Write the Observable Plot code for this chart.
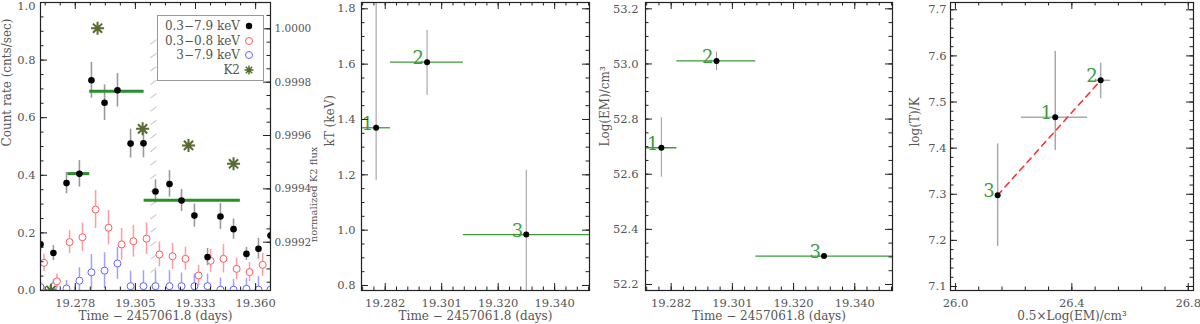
<!DOCTYPE html>
<html><head><meta charset="utf-8">
<script src="https://cdn.jsdelivr.net/npm/d3@7"></script>
<script src="https://cdn.jsdelivr.net/npm/@observablehq/plot@0.6"></script>
<style>
body{margin:0;background:#fff;}
#wrap{position:relative;width:1200px;height:324px;background:#fff;overflow:hidden;font-family:"DejaVu Serif";}
#wrap svg{position:absolute;top:0;}
#legend{position:absolute;left:157px;top:15px;width:105px;height:64px;border:1px solid #999;background:#fff;color:#555;font-size:12px;}
#legend .row{position:absolute;left:0;width:105px;height:14px;}
#legend .lab{position:absolute;right:23px;top:0;line-height:14px;white-space:nowrap;}
#legend svg{position:absolute;left:85px;top:1px;}
</style></head><body><div id="wrap"></div>
<script>
// ---------------- Panel 1: light curves ----------------
const binTime = [19.2616, 19.2675, 19.2735, 19.2794, 19.2849, 19.2909, 19.2968, 19.3028, 19.3087, 19.3142, 19.3206, 19.3261, 19.3320, 19.3380, 19.3439, 19.3499, 19.3558, 19.3613, 19.3668];
const rateBroad = [0.160, 0.130, 0.373, 0.405, 0.730, 0.652, 0.695, 0.510, 0.511, 0.344, 0.370, 0.3125, 0.260, 0.116, 0.257, 0.213, 0.127, 0.145, 0.191];
const errBroad  = [0.025, 0.026, 0.037, 0.046, 0.062, 0.062, 0.058, 0.050, 0.050, 0.040, 0.046, 0.038, 0.040, 0.030, 0.045, 0.035, 0.023, 0.036, 0.035];
const softTime = [19.2632, 19.2691, 19.2749, 19.2808, 19.2868, 19.2927, 19.2987, 19.3041, 19.3101, 19.3160, 19.3220, 19.3279, 19.3339, 19.3394, 19.3453, 19.3513, 19.3572, 19.3632];
const rateSoft = [0.096, 0.032, 0.168, 0.185, 0.281, 0.218, 0.160, 0.171, 0.180, 0.125, 0.119, 0.110, 0.052, 0.103, 0.110, 0.075, 0.064, 0.089];
const errSoft  = [0.030, 0.025, 0.040, 0.049, 0.066, 0.060, 0.055, 0.055, 0.055, 0.043, 0.045, 0.040, 0.035, 0.040, 0.049, 0.038, 0.033, 0.040];
const rateHard = [0.012, 0.015, 0.007, 0.034, 0.063, 0.069, 0.094, 0.015, 0.015, 0.015, 0.015, 0.015, 0.015, 0.015, 0.003, 0.003, 0.006, 0.003, 0.003];
const errHard  = [0.020, 0.022, 0.028, 0.045, 0.062, 0.062, 0.055, 0.052, 0.054, 0.054, 0.054, 0.046, 0.042, 0.042, 0.040, 0.035, 0.035, 0.045, 0.035];
const k2Time = [19.2664, 19.2877, 19.3083, 19.3293, 19.3499];
const k2Flux = [0.999019, 1.0000023, 0.999625, 0.999563, 0.999494];
const segEdges = [19.2741, 19.2841, 19.3090, 19.3530];
const segRate = [0.406, 0.692, 0.313];
const gapTime = 19.3119;
const hatchLevels = [0.015, 0.062, 0.108, 0.155, 0.202, 0.248, 0.295, 0.342, 0.388, 0.435, 0.482, 0.528, 0.575, 0.622, 0.668, 0.715, 0.762, 0.808, 0.855];
const p1XDomain = [19.2616, 19.3668];
const p1XTicks = [19.2775, 19.305, 19.3325, 19.36];
const p1XLabels = ["19.278", "19.305", "19.333", "19.360"];
const p1YTicks = [0, 0.2, 0.4, 0.6, 0.8, 1.0];
const p1YLabels = ["0.0", "0.2", "0.4", "0.6", "0.8", "1.0"];
const k2Domain = [0.999019, 1.0000986]; // right axis range matching the left [0,1]
const k2Ticks = [0.9992, 0.9994, 0.9996, 0.9998, 1.0000];
const k2Labels = ["0.9992", "0.9994", "0.9996", "0.9998", "1.0000"];
const legendLabels = ["0.3\u22127.9 keV", "0.3\u22120.8 keV", "3\u22127.9 keV", "K2"];

// ---------------- Panels 2-4: spectral fits ----------------
const segLabels = ["1", "2", "3"];
const specTime = [19.2792, 19.2966, 19.3305];
const kT = [1.370, 1.607, 0.984];
const kTLo = [1.179, 1.487, 0.75];
const kTHi = [1.85, 1.722, 1.216];
const logEM = [52.696, 53.011, 52.303];
const logEMLo = [52.589, 52.976, 52.297];
const logEMHi = [52.805, 53.043, 52.309];
const halfLogEM = [26.343, 26.499, 26.145];
const halfLogEMLo = [26.227, 26.484, 26.145];
const halfLogEMHi = [26.454, 26.533, 26.145];
const logT = [7.467, 7.547, 7.298];
const logTLo = [7.395, 7.507, 7.187];
const logTHi = [7.610, 7.584, 7.409];
const fitOrder = [2, 1];

const tDomain = [19.2742, 19.3521];
const tTicks = [19.2823, 19.3016, 19.3209, 19.3402];
const tLabels = ["19.282", "19.301", "19.320", "19.340"];
const kTDomain = [0.7819, 1.8228];
const kTTicks = [0.8, 1.0, 1.2, 1.4, 1.6, 1.8];
const kTLabels = ["0.8", "1.0", "1.2", "1.4", "1.6", "1.8"];
const emDomain = [52.1782, 53.2229];
const emTicks = [52.2, 52.4, 52.6, 52.8, 53.0, 53.2];
const emLabels = ["52.2", "52.4", "52.6", "52.8", "53.0", "53.2"];
const p4XDomain = [25.983, 26.818];
const p4XTicks = [26.0, 26.4, 26.8];
const p4XLabels = ["26.0", "26.4", "26.8"];
const p4YDomain = [7.0913, 7.7158];
const p4YTicks = [7.1, 7.2, 7.3, 7.4, 7.5, 7.6, 7.7];
const p4YLabels = ["7.1", "7.2", "7.3", "7.4", "7.5", "7.6", "7.7"];

// ---------------- colours ----------------
const GREEN = "#2a8f2a", GREEN_L = "#3a9d3a", K2C = "#556b2f";
const RED = "#ff5a5a", RED_BAR = "#ff9c9c", BLUE = "#6464ff", BLUE_BAR = "#a0a0ff";

function minors(domain, anchor, step) {
  const out = [];
  const n0 = Math.ceil((domain[0] - anchor) / step - 1e-9), n1 = Math.floor((domain[1] - anchor) / step + 1e-9);
  for (let i = n0; i <= n1; i++) out.push(anchor + i * step);
  return out;
}

const asterisk8 = {
  draw(ctx, size) {
    const r = Math.sqrt(size / Math.PI);
    for (let k = 0; k < 4; k++) {
      const a = k * Math.PI / 4, c = Math.cos(a) * r, s = Math.sin(a) * r;
      ctx.moveTo(c, s); ctx.lineTo(-c, -s);
    }
  }
};

function frameMarks(p) {
  const pw = p.w - p.ml - p.mr, ph = p.h - p.mt - p.mb;
  const s = {stroke: "#222", strokeWidth: 1};
  const M = 7, m = 3.5;
  const xt = (vals, len) => [
    Plot.ruleX(vals, {x: d => d, insetTop: ph - len, ...s}),
    Plot.ruleX(vals, {x: d => d, insetBottom: ph - len, ...s})
  ];
  const yl = (vals, len) => Plot.ruleY(vals, {y: d => d, insetRight: pw - len, ...s});
  const yr = (vals, len) => Plot.ruleY(vals, {y: d => d, insetLeft: pw - len, ...s});
  const marks = [...xt(p.xMaj, M), ...xt(p.xMin, m), yl(p.yMaj, M), yl(p.yMin, m)];
  if (p.mirrorY) marks.push(yr(p.yMaj, M), yr(p.yMin, m));
  const yClamp = p.yLabMax ?? Infinity;
  marks.push(
    Plot.text(p.xMaj, {x: d => d, text: (d, i) => p.xLab[i], frameAnchor: "bottom", dy: 13, lineAnchor: "middle"}),
    Plot.text(p.yMaj, {y: d => Math.min(d, yClamp), text: (d, i) => p.yLab[i], frameAnchor: "left", dx: p.yLabDx, textAnchor: "end"}),
    Plot.text([p.xTitle], {text: d => d, frameAnchor: "bottom", dy: 26, lineAnchor: "middle", fontSize: 12}),
    Plot.text([p.yTitle], {text: d => d, frameAnchor: "left", dx: p.yTitleDx, rotate: -90, fontSize: 12}),
    Plot.frame({stroke: "#222", strokeWidth: 1.2})
  );
  return marks;
}

function make(p, dataMarks) {
  const svg = Plot.plot({
    width: p.w, height: p.h,
    marginLeft: p.ml, marginRight: p.mr, marginTop: p.mt, marginBottom: p.mb,
    x: {domain: p.xDomain, axis: null},
    y: {domain: p.yDomain, axis: null},
    style: {background: "transparent", overflow: "visible", fontFamily: "DejaVu Serif", fontSize: "11.5px", color: "#555"},
    marks: [...dataMarks, ...frameMarks(p)]
  });
  svg.style.left = p.left + "px";
  document.getElementById("wrap").appendChild(svg);
}

const TIME_TITLE = "Time \u2212 2457061.8 (days)";

// ---------- Panel 1 ----------
{
  const toC = f => (f - k2Domain[0]) / (k2Domain[1] - k2Domain[0]);
  const broad = binTime.map((t, i) => ({t, v: rateBroad[i], e: errBroad[i]}));
  const soft = softTime.map((t, i) => ({t, v: rateSoft[i], e: errSoft[i]}));
  const hard = binTime.map((t, i) => ({t, v: rateHard[i], e: errHard[i]}));
  const k2 = k2Time.map((t, i) => ({t, c: toC(k2Flux[i])}));
  const segs = segRate.map((v, i) => ({a: segEdges[i], b: segEdges[i + 1], v}));
  const p = {left: 0, w: 300, h: 324, ml: 40, mr: 30, mt: 2, mb: 34,
    xDomain: p1XDomain, yDomain: [0, 1],
    xMaj: p1XTicks, xLab: p1XLabels, xMin: minors(p1XDomain, 19.2775, 0.006875),
    yMaj: p1YTicks, yLab: p1YLabels, yMin: minors([0, 1], 0, 0.05), yLabMax: 0.988,
    mirrorY: false, yLabDx: -5, yTitleDx: -33, xTitle: TIME_TITLE, yTitle: "Count rate (cnts/sec)"};
  const pw = p.w - p.ml - p.mr;
  const k2Minor = minors(k2Domain, 1.0, 0.00005);
  make(p, [
    Plot.link(hatchLevels, {x1: () => gapTime, x2: () => gapTime + 0.0027, y1: d => d, y2: d => d + 0.016, stroke: "#cfcfcf", strokeWidth: 1.2}),
    Plot.ruleX(hard, {x: "t", y1: d => d.v - d.e, y2: d => d.v + d.e, stroke: BLUE_BAR, strokeWidth: 1.5, clip: true}),
    Plot.dot(hard, {x: "t", y: "v", r: 3.5, stroke: BLUE, fill: "white", strokeWidth: 1, clip: true}),
    Plot.ruleX(soft, {x: "t", y1: d => d.v - d.e, y2: d => d.v + d.e, stroke: RED_BAR, strokeWidth: 1.5, clip: true}),
    Plot.dot(soft, {x: "t", y: "v", r: 3.5, stroke: RED, fill: "white", strokeWidth: 1, clip: true}),
    Plot.ruleX(broad, {x: "t", y1: d => d.v - d.e, y2: d => d.v + d.e, stroke: "#9a9a9a", strokeWidth: 1.6, clip: true}),
    Plot.ruleY(segs, {y: "v", x1: "a", x2: "b", stroke: GREEN, strokeWidth: 3, clip: true}),
    Plot.dot(broad, {x: "t", y: "v", r: 3.3, fill: "#000", clip: true}),
    Plot.dot(k2, {x: "t", y: "c", symbol: asterisk8, r: 6.5, stroke: K2C, strokeWidth: 2, clip: true}),
    // right-hand K2 axis
    Plot.ruleY(k2Ticks, {y: toC, insetLeft: pw - 7, stroke: "#222"}),
    Plot.ruleY(k2Minor, {y: toC, insetLeft: pw - 3.5, stroke: "#222"}),
    Plot.text(k2Ticks, {y: toC, text: (d, i) => k2Labels[i], frameAnchor: "right", dx: 4, textAnchor: "start", fontSize: 10.5}),
    Plot.text(["normalized K2 flux"], {text: d => d, frameAnchor: "right", dx: 43, rotate: -90, fontSize: 10})
  ]);
}

// ---------- Panel 2 ----------
const spec = specTime.map((t, i) => ({
  t, lab: segLabels[i], a: segEdges[i], b: segEdges[i + 1],
  kT: kT[i], kTLo: kTLo[i], kTHi: kTHi[i],
  em: logEM[i], emLo: logEMLo[i], emHi: logEMHi[i],
  hx: halfLogEM[i], hxLo: halfLogEMLo[i], hxHi: halfLogEMHi[i],
  lt: logT[i], ltLo: logTLo[i], ltHi: logTHi[i]
}));
const numStyle = {text: "lab", textAnchor: "end", lineAnchor: "bottom", dx: -3, dy: 2, fill: GREEN_L, fontSize: 18};
{
  const p = {left: 300, w: 300, h: 324, ml: 61, mr: 11, mt: 2, mb: 34,
    xDomain: tDomain, yDomain: kTDomain,
    xMaj: tTicks, xLab: tLabels, xMin: minors(tDomain, tTicks[0], 0.00386),
    yMaj: kTTicks, yLab: kTLabels, yMin: minors(kTDomain, 0.8, 0.05),
    mirrorY: true, yLabDx: -6, yTitleDx: -31, xTitle: TIME_TITLE, yTitle: "kT (keV)"};
  make(p, [
    Plot.ruleX(spec, {x: "t", y1: "kTLo", y2: "kTHi", stroke: "#9a9a9a", strokeWidth: 1, clip: true}),
    Plot.ruleY(spec, {y: "kT", x1: "a", x2: "b", stroke: GREEN_L, strokeWidth: 1.3, clip: true}),
    Plot.dot(spec, {x: "t", y: "kT", r: 3, fill: "#000"}),
    Plot.text(spec, {x: "t", y: "kT", ...numStyle})
  ]);
}

// ---------- Panel 3 ----------
{
  const p = {left: 600, w: 300, h: 324, ml: 45, mr: 8, mt: 2, mb: 34,
    xDomain: tDomain, yDomain: emDomain,
    xMaj: tTicks, xLab: tLabels, xMin: minors(tDomain, tTicks[0], 0.00386),
    yMaj: emTicks, yLab: emLabels, yMin: minors(emDomain, 52.2, 0.05),
    mirrorY: true, yLabDx: -7, yTitleDx: -40, xTitle: TIME_TITLE, yTitle: "Log(EM)/cm\u00b3"};
  make(p, [
    Plot.ruleX(spec, {x: "t", y1: "emLo", y2: "emHi", stroke: "#9a9a9a", strokeWidth: 1, clip: true}),
    Plot.ruleY(spec, {y: "em", x1: "a", x2: "b", stroke: GREEN_L, strokeWidth: 1.3, clip: true}),
    Plot.dot(spec, {x: "t", y: "em", r: 3, fill: "#000"}),
    Plot.text(spec, {x: "t", y: "em", ...numStyle})
  ]);
}

// ---------- Panel 4 ----------
{
  const p = {left: 900, w: 300, h: 324, ml: 50, mr: 7, mt: 2, mb: 34,
    xDomain: p4XDomain, yDomain: p4YDomain,
    xMaj: p4XTicks, xLab: p4XLabels, xMin: minors(p4XDomain, 26.0, 0.08),
    yMaj: p4YTicks, yLab: p4YLabels, yMin: minors(p4YDomain, 7.1, 0.02),
    mirrorY: true, yLabDx: -4, yTitleDx: -35, xTitle: "0.5\u00d7Log(EM)/cm\u00b3", yTitle: "log(T)/K"};
  const fit = fitOrder.map(i => spec[i]);
  make(p, [
    Plot.ruleX(spec, {x: "hx", y1: "ltLo", y2: "ltHi", stroke: "#a8a8a8", strokeWidth: 1.5, clip: true}),
    Plot.ruleY(spec, {y: "lt", x1: "hxLo", x2: "hxHi", stroke: "#a8a8a8", strokeWidth: 1.5, clip: true}),
    Plot.line(fit, {x: "hx", y: "lt", stroke: "#ff2a2a", strokeWidth: 1.5, strokeDasharray: "6,5"}),
    Plot.dot(spec, {x: "hx", y: "lt", r: 3, fill: "#000"}),
    Plot.text(spec, {x: "hx", y: "lt", ...numStyle})
  ]);
}

// ---------- Legend (panel 1) ----------
{
  const syms = [
    '<circle cx="6" cy="6" r="3.2" fill="#000"/>',
    `<circle cx="6" cy="6" r="3.5" fill="none" stroke="${RED}"/>`,
    `<circle cx="6" cy="6" r="3.5" fill="none" stroke="${BLUE}"/>`,
    `<path d="M1.5,6H10.5M6,1.5V10.5M2.8,2.8L9.2,9.2M2.8,9.2L9.2,2.8" stroke="${K2C}" stroke-width="1.5"/>`
  ];
  const lg = document.createElement("div");
  lg.id = "legend";
  lg.innerHTML = legendLabels.map((l, i) =>
    `<div class="row" style="top:${3 + i * 14.5}px"><span class="lab">${l}</span><svg width="12" height="12" viewBox="0 0 12 12">${syms[i]}</svg></div>`).join("");
  document.getElementById("wrap").appendChild(lg);
}
</script></body></html>
